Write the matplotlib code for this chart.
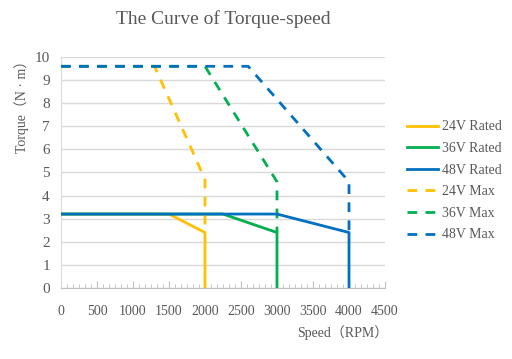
import numpy as np
import matplotlib.pyplot as plt
from matplotlib.ticker import MultipleLocator

# rated curves (speed rpm, torque N.m)
rated_24_x = [0, 1500, 2000, 2000]
rated_24_y = [3.2, 3.2, 2.4, 0]
rated_36_x = [0, 2250, 3000, 3000]
rated_36_y = [3.2, 3.2, 2.4, 0]
rated_48_x = [0, 3000, 4000, 4000]
rated_48_y = [3.2, 3.2, 2.4, 0]

# max curves
max_24_x = [0, 1300, 2000, 2000]
max_24_y = [9.6, 9.6, 4.7, 2.4]
max_36_x = [0, 2000, 3000, 3000]
max_36_y = [9.6, 9.6, 4.6, 2.4]
max_48_x = [0, 2600, 4000, 4000]
max_48_y = [9.6, 9.6, 4.6, 2.4]

yellow = "#FFC000"
green = "#00B050"
blue = "#0070C0"
grey = "#595959"

plt.rcParams['font.family'] = ['Liberation Serif', 'DejaVu Serif']

fig = plt.figure(figsize=(5.12, 3.59), dpi=100)
ax = fig.add_axes([0.119, 0.198, 0.633, 0.643])

ax.plot(rated_24_x, rated_24_y, color=yellow, lw=2, label="24V Rated", zorder=3)
ax.plot(rated_36_x, rated_36_y, color=green, lw=2, label="36V Rated", zorder=3)
ax.plot(rated_48_x, rated_48_y, color=blue, lw=2, label="48V Rated", zorder=4)
ax.plot(max_24_x, max_24_y, color=yellow, lw=2, ls=(0, (3.5, 3)), label="24V Max", zorder=3)
ax.plot(max_36_x, max_36_y, color=green, lw=2, ls=(0, (3.5, 3)), label="36V Max", zorder=3)
ax.plot(max_48_x, max_48_y, color=blue, lw=2, ls=(0, (3.5, 3)), label="48V Max", zorder=3)

ax.set_xlim(0, 4500)
ax.set_ylim(0, 10)
ax.xaxis.set_major_locator(MultipleLocator(500))
ax.xaxis.set_minor_locator(MultipleLocator(500 / 6))
ax.yaxis.set_major_locator(MultipleLocator(1))
ax.grid(axis='y', color='#d9d9d9', lw=1)
ax.set_axisbelow(True)

for s in ['top', 'right']:
    ax.spines[s].set_visible(False)
ax.spines['left'].set_color('#d9d9d9')
ax.spines['bottom'].set_color('#bfbfbf')

ax.tick_params(axis='x', which='major', direction='in', length=5, color='#bfbfbf',
               labelsize=10, labelcolor=grey, pad=12)
ax.tick_params(axis='x', which='minor', direction='in', length=3, color='#bfbfbf')
ax.tick_params(axis='y', length=0, labelsize=11, labelcolor=grey, pad=8)

ax.set_title("The Curve of Torque-speed", fontsize=14, color=grey, pad=24)
ax.set_ylabel("Torque（N · m）", fontsize=10, color=grey,
              family=['Liberation Serif', 'Noto Sans CJK SC'])
ax.yaxis.set_label_coords(-0.10, 0.8)
ax.set_xlabel("Speed（RPM）", fontsize=10, color=grey,
              family=['Liberation Serif', 'Noto Sans CJK SC'])
ax.xaxis.set_label_coords(0.87, -0.16)

ax.legend(loc='upper left', bbox_to_anchor=(1.03, 0.78), frameon=False,
          fontsize=10, labelcolor=grey, handlelength=2.2, handletextpad=0.3,
          labelspacing=0.62)

fig.savefig("out.png", dpi=100)
